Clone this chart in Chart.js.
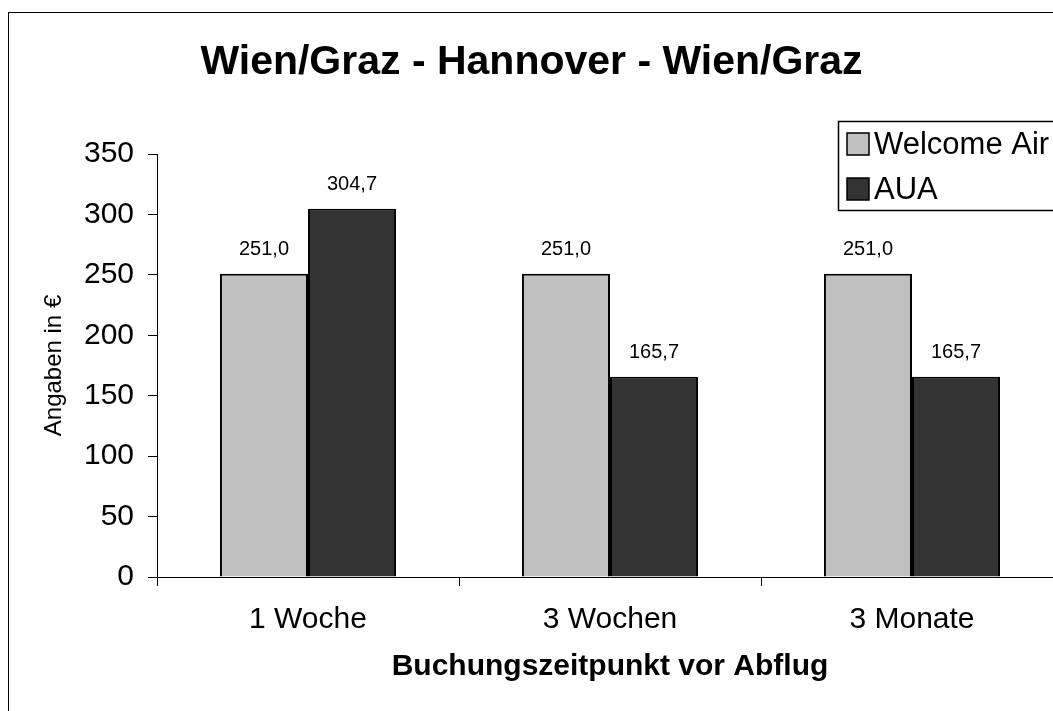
<!DOCTYPE html>
<html>
<head>
<meta charset="utf-8">
<script src="https://cdn.jsdelivr.net/npm/chart.js@4"></script>
<style>
  html, body { margin: 0; padding: 0; background: #fff; overflow: hidden; }
  #wrap { width: 1053px; height: 711px; overflow: hidden; position: relative; }
  canvas { display: block; }
</style>
</head>
<body>
<div id="wrap"><canvas id="chart" width="1064" height="711"></canvas></div>
<script>
  // data
  const categories = ['1 Woche', '3 Wochen', '3 Monate'];
  const welcomeAir = [251.0, 251.0, 251.0];
  const aua = [304.7, 165.7, 165.7];
  const yTicks = { min: 0, max: 350, step: 50 };

  Chart.defaults.font.family = 'Arial, "Liberation Sans", sans-serif';
  Chart.defaults.color = '#000';

  // outer frame of the chart (cut off at right and bottom like the original)
  const framePlugin = {
    id: 'frame',
    beforeDraw(chart) {
      const ctx = chart.ctx;
      ctx.save();
      ctx.fillStyle = '#fff';
      ctx.fillRect(0, 0, chart.width, chart.height);
      ctx.strokeStyle = '#000';
      ctx.lineWidth = 1;
      ctx.strokeRect(8.5, 12.5, 2000, 2000);
      ctx.restore();
    }
  };

  // value labels above bars, german decimal comma
  const valueLabels = {
    id: 'valueLabels',
    afterDatasetsDraw(chart) {
      const ctx = chart.ctx;
      ctx.save();
      ctx.font = '20px Arial, "Liberation Sans", sans-serif';
      ctx.fillStyle = '#000';
      ctx.textAlign = 'center';
      ctx.textBaseline = 'middle';
      chart.data.datasets.forEach((ds, i) => {
        chart.getDatasetMeta(i).data.forEach((bar, j) => {
          const txt = ds.data[j].toFixed(1).replace('.', ',');
          ctx.fillText(txt, bar.x, bar.y - 24);
        });
      });
      ctx.restore();
    }
  };

  // legend box in the top right corner, partly cut off
  const boxLegend = {
    id: 'boxLegend',
    afterDraw(chart) {
      const ctx = chart.ctx;
      const left = 838, top = 121, rowH = 45;
      ctx.save();
      ctx.fillStyle = '#fff';
      ctx.fillRect(left, top, 300, 89);
      ctx.strokeStyle = '#000';
      ctx.lineWidth = 1.5;
      ctx.strokeRect(left + 0.5, top + 0.5, 300, 89);
      ctx.font = '31px Arial, "Liberation Sans", sans-serif';
      ctx.textBaseline = 'middle';
      chart.data.datasets.forEach((ds, i) => {
        const y = top + 12 + i * rowH;
        ctx.fillStyle = ds.backgroundColor;
        ctx.fillRect(left + 9, y, 22, 22);
        ctx.strokeStyle = '#000';
        ctx.lineWidth = 1.5;
        ctx.strokeRect(left + 9, y, 22, 22);
        ctx.fillStyle = '#000';
        ctx.fillText(ds.label, left + 36, y + 12);
      });
      ctx.restore();
    }
  };

  new Chart(document.getElementById('chart'), {
    type: 'bar',
    data: {
      labels: categories,
      datasets: [
        {
          label: 'Welcome Air',
          data: welcomeAir,
          backgroundColor: '#c0c0c0',
          borderColor: '#000',
          borderWidth: 2,
        },
        {
          label: 'AUA',
          data: aua,
          backgroundColor: '#333333',
          borderColor: '#000',
          borderWidth: 2,
        }
      ]
    },
    options: {
      responsive: false,
      animation: false,
      devicePixelRatio: 1,
      categoryPercentage: 0.583,
      barPercentage: 1.0,
      layout: { padding: { top: 0, left: 0, right: 1, bottom: 0 } },
      plugins: {
        legend: { display: false },
        tooltip: { enabled: false },
        title: {
          display: true,
          text: 'Wien/Graz - Hannover - Wien/Graz',
          font: { size: 41, weight: 'bold' },
          color: '#000',
          padding: { top: 38, bottom: 66.8 }
        }
      },
      scales: {
        x: {
          grid: {
            offset: true,
            drawOnChartArea: false,
            drawTicks: true,
            tickLength: 9,
            color: '#000'
          },
          border: { display: true, color: '#000', width: 1 },
          ticks: { font: { size: 30 }, color: '#000', padding: 16, maxRotation: 0 },
          title: {
            display: true,
            text: 'Buchungszeitpunkt vor Abflug',
            font: { size: 30, weight: 'bold' },
            color: '#000',
            padding: { top: 0, bottom: 26 }
          },
          afterFit(scale) { scale.height = 134; }
        },
        y: {
          min: yTicks.min,
          max: yTicks.max,
          grid: {
            drawOnChartArea: false,
            drawTicks: true,
            tickLength: 9,
            color: '#000'
          },
          border: { display: true, color: '#000', width: 1 },
          ticks: { stepSize: yTicks.step, font: { size: 30 }, color: '#000', padding: 14 },
          title: {
            display: true,
            text: 'Angaben in €',
            font: { size: 24 },
            color: '#000',
            padding: { top: 40, bottom: 0 }
          },
          afterFit(scale) { scale.width = 157; }
        }
      }
    },
    plugins: [framePlugin, valueLabels, boxLegend]
  });
</script>
</body>
</html>
